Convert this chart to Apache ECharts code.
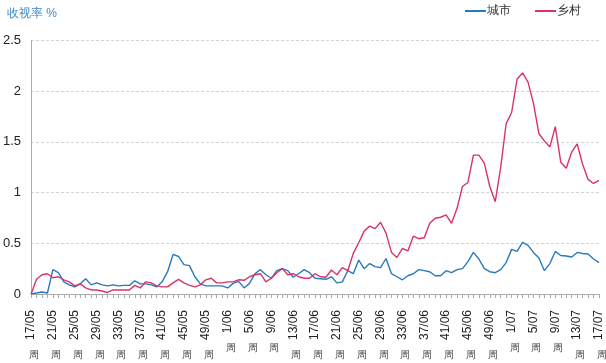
<!DOCTYPE html>
<html>
<head>
<meta charset="utf-8">
<script src="https://cdn.jsdelivr.net/npm/echarts@6/dist/echarts.min.js"></script>
<style>html,body{margin:0;padding:0;background:#fff}#c{width:606px;height:363px}</style>
</head>
<body>
<div id="c"></div>
<script>
// Week categories: 17/05 .. 17/07
var weekSpans = [[5, 17, 52], [6, 1, 52], [7, 1, 17]];
var categories = [];
weekSpans.forEach(function (s) {
  for (var w = s[1]; w <= s[2]; w++) categories.push(w + '/' + (s[0] < 10 ? '0' + s[0] : s[0]));
});

var seriesNames = ['城市', '乡村'];
var yTicks = [0, 0.5, 1, 1.5, 2, 2.5];
var weekSuffix = '周';
var yTitle = '收视率 %';

var city = [
  0, 0.01, 0.02, 0.01, 0.24, 0.21, 0.12, 0.09, 0.07, 0.1,
  0.15, 0.09, 0.11, 0.09, 0.08, 0.09, 0.08, 0.085, 0.085, 0.13,
  0.1, 0.1, 0.09, 0.07, 0.12, 0.22, 0.39, 0.37, 0.29, 0.28,
  0.17, 0.1, 0.08, 0.08, 0.08, 0.08, 0.06, 0.105, 0.125, 0.06,
  0.105, 0.2, 0.24, 0.19, 0.155, 0.23, 0.25, 0.23, 0.165, 0.2,
  0.24, 0.21, 0.155, 0.15, 0.145, 0.17, 0.11, 0.12, 0.23, 0.2,
  0.335, 0.25, 0.3, 0.27, 0.26, 0.35, 0.2, 0.17, 0.14, 0.18,
  0.2, 0.24, 0.23, 0.22, 0.18, 0.18, 0.23, 0.21, 0.24, 0.25,
  0.32, 0.41, 0.345, 0.25, 0.22, 0.21, 0.24, 0.31, 0.44, 0.42,
  0.51, 0.48, 0.41, 0.355, 0.23, 0.3, 0.42, 0.38, 0.375, 0.365,
  0.41, 0.4, 0.395, 0.345, 0.31
];
var rural = [
  0, 0.145, 0.19, 0.2, 0.16, 0.17, 0.14, 0.12, 0.08, 0.1,
  0.06, 0.04, 0.04, 0.03, 0.015, 0.04, 0.04, 0.04, 0.04, 0.085,
  0.06, 0.12, 0.11, 0.08, 0.07, 0.07, 0.11, 0.145, 0.11, 0.085,
  0.07, 0.09, 0.14, 0.155, 0.11, 0.11, 0.12, 0.12, 0.14, 0.135,
  0.17, 0.19, 0.2, 0.12, 0.155, 0.21, 0.25, 0.19, 0.2, 0.17,
  0.155, 0.155, 0.2, 0.17, 0.165, 0.237, 0.19, 0.26, 0.23, 0.4,
  0.505, 0.62, 0.67, 0.645, 0.707, 0.6, 0.41, 0.36, 0.45, 0.425,
  0.57, 0.545, 0.555, 0.697, 0.747, 0.757, 0.78, 0.697, 0.845, 1.06,
  1.1, 1.37, 1.37, 1.29, 1.06, 0.91, 1.25, 1.68, 1.79, 2.12,
  2.18, 2.09, 1.88, 1.58, 1.51, 1.45, 1.65, 1.3, 1.24, 1.4,
  1.48, 1.28, 1.13, 1.09, 1.12
];

var blue = '#2a79bd';
var red = '#d8336a';
var font = 'Liberation Sans, Arial, sans-serif';

var chart = echarts.init(document.getElementById('c'), null, {renderer: 'canvas'});
chart.setOption({
  animation: false,
  backgroundColor: '#fff',
  textStyle: {fontFamily: font},
  title: {
    text: yTitle, left: 2, top: 3,
    textStyle: {fontSize: 12, fontWeight: 'normal', color: '#3f8ac8', fontFamily: font}
  },
  legend: {
    left: 460, top: 0, itemGap: 24, itemWidth: 21, itemHeight: 2,
    icon: 'rect',
    textStyle: {fontSize: 12, color: '#333', padding: [0, 0, 0, -4]},
    data: seriesNames
  },
  grid: {left: 28, right: 7, top: 40.5, bottom: 69},
  xAxis: {
    type: 'category', data: categories, boundaryGap: false,
    axisLine: {lineStyle: {color: '#aaa', width: 1}},
    axisTick: {show: true, interval: 0, length: 4, lineStyle: {color: '#aaa'}},
    axisLabel: {interval: 3, rotate: 90, margin: 16, fontSize: 12, color: '#222', padding: [5, 0, 0, 0]},
    splitLine: {show: false, lineStyle: {opacity: 0, width: 0}},
    minorSplitLine: {show: false},
    splitArea: {show: false}
  },
  yAxis: {
    type: 'value', min: yTicks[0], max: yTicks[yTicks.length - 1], interval: 0.5,
    axisLine: {show: true, lineStyle: {color: '#aaa'}},
    axisTick: {show: false},
    axisLabel: {margin: 10, fontSize: 13, color: '#222'},
    splitLine: {show: true, lineStyle: {color: '#d4d4d4', type: [3, 2], width: 1}},
    minorSplitLine: {show: false},
    splitArea: {show: false}
  },
  series: [{
    name: seriesNames[0], type: 'line', data: city, symbol: 'none',
    lineStyle: {color: blue, width: 1.4}, itemStyle: {color: blue}
  }, {
    name: seriesNames[1], type: 'line', data: rural, symbol: 'none',
    lineStyle: {color: red, width: 1.4}, itemStyle: {color: red}
  }]
});

// "周" suffix under each rotated week label, placed through the axis scales
var yBase = chart.convertToPixel({yAxisIndex: 0}, 0);
var marks = [];
for (var i = 0; i < categories.length; i += 4) {
  var px = chart.convertToPixel({xAxisIndex: 0}, categories[i]);
  marks.push({
    type: 'text', silent: true,
    x: px + 3, y: yBase + (categories[i].length <= 4 ? 54 : 61),
    style: {text: weekSuffix, fontSize: 10, fill: '#444', align: 'center', verticalAlign: 'middle', fontFamily: font}
  });
}
chart.setOption({graphic: marks});
</script>
</body>
</html>
